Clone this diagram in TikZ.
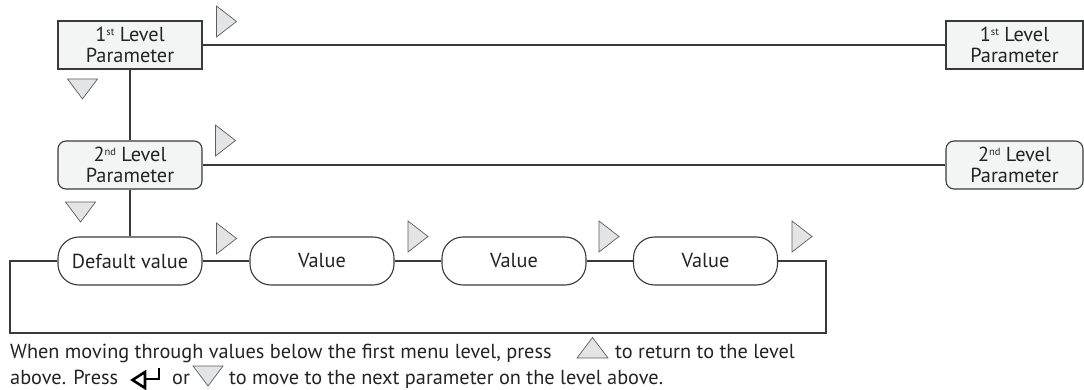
\documentclass[tikz,border=0pt]{standalone}
\usepackage{fontspec}
\setmainfont{PT Sans}
\definecolor{boxfill}{HTML}{F3F4F4}
\definecolor{linec}{HTML}{3A3A3A}
\definecolor{trifill}{HTML}{E3E4E5}
\definecolor{tric}{HTML}{5E5E5E}
\definecolor{txt}{HTML}{232323}
\begin{document}
\begin{tikzpicture}[x=1pt,y=-1pt,
  every node/.style={font=\fontsize{20.3}{21.5}\selectfont, text=txt, align=center, inner sep=0pt},
  parbox/.style={draw=linec, line width=1.1pt, fill=boxfill, minimum width=144pt, minimum height=48pt},
  parbox2/.style={parbox, rounded corners=8pt},
  pill/.style={draw=linec, line width=1.1pt, fill=white, minimum width=144pt, minimum height=48pt, rounded corners=21pt},
  conn/.style={draw=linec, line width=1.1pt},
  tri/.style={draw=tric, line width=0.7pt, fill=trifill, line join=miter}]
\useasboundingbox (0,0) rectangle (1084,390);
\newcommand{\sups}[1]{\raisebox{0.6ex}{\fontsize{10.5}{10.5}\selectfont #1}}
% nodes
\node[parbox] (p1) at (130,45) {1\sups{st} Level\\Parameter};
\node[parbox, minimum width=137pt] (p1r) at (1014.5,45) {1\sups{st} Level\\Parameter};
\node[parbox2] (p2) at (130,165) {2\sups{nd} Level\\Parameter};
\node[parbox2, minimum width=137pt] (p2r) at (1014.5,165) {2\sups{nd} Level\\Parameter};
\node[pill] (d) at (130,261) {Default value};
\node[pill] (v1) at (322,261) {Value};
\node[pill] (v2) at (514,261) {Value};
\node[pill] (v3) at (705.5,261) {Value};
\coordinate (l0) at (10,261);
\coordinate (r0) at (826,261);
% connectors
\draw[conn] (p1) -- (p1r);
\draw[conn] (p2) -- (p2r);
\draw[conn] (p1) -- (p2);
\draw[conn] (p2.south) -- (d.north);
\draw[conn] (d) -- (v1);
\draw[conn] (v1) -- (v2);
\draw[conn] (v2) -- (v3);
\draw[conn] (d.west) -- (l0) -- (10,333) -| (r0) -- (v3.east);
% right triangles
\foreach \x/\y in {216.5/6, 215.5/125, 216.5/223, 408/221, 599/221, 792/221}
  \draw[tri] (\x,\y) -- ++(20,15.5) -- ++(-20,15.5) -- cycle;
% down triangles
\foreach \x/\y in {67.5/79, 65.5/202}
  \draw[tri] (\x,\y) -- ++(30,0) -- ++(-15,20) -- cycle;
% caption
\node[anchor=base west] (c1) at (10,358) {When moving through values below the first menu level, press};
\draw[tri] (577,358) -- ++(31,0) -- ++(-15.5,-20.5) -- cycle;
\node[anchor=base west] (c2) at (615,358) {to return to the level};
\node[anchor=base west] (c3) at (10,384) {above. Press};
\draw[black, line width=2.6pt, line join=miter] (145,372) -- (132.5,380) -- (145,388) -- cycle;
\draw[black, line width=2.6pt, line cap=rect] (145,379) -- (159,379) -- (159,369.5);
\node[anchor=base west] (c4) at (172,384) {or};
\draw[tri] (193,366) -- ++(30,0) -- ++(-15,20) -- cycle;
\node[anchor=base west] (c5) at (229,384) {to move to the next parameter on the level above.};
\end{tikzpicture}
\end{document}
